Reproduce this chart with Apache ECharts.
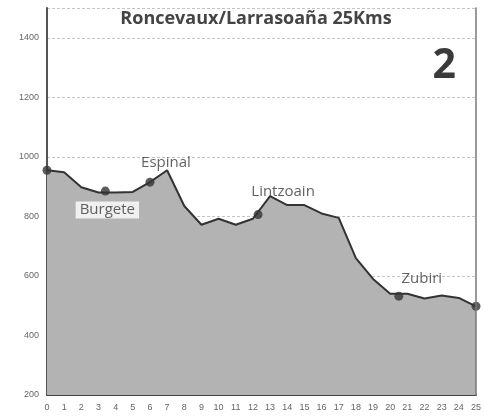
<!DOCTYPE html>
<html>
<head>
<meta charset="utf-8">
<script src="https://cdn.jsdelivr.net/npm/echarts@6/dist/echarts.min.js"></script>
<style>
html,body{margin:0;padding:0;background:#fff;}
#main{width:484px;height:418px;}
</style>
</head>
<body>
<div id="main"></div>
<script>
// perfil de la etapa: km y altitud (m)
var kms = [0,1,2,3,4,5,6,7,8,9,10,11,12,13,14,15,16,17,18,19,20,21,22,23,24,25];
var alturas = [955,948,898,880,880,882,915,955,835,772,792,772,792,868,838,838,810,795,660,590,540,540,524,534,526,498];
// pueblos
var puebloKm = [0,3.4,6,12.3,20.5,25];
var puebloAlt = [955,885,915,806,532,498];
var puebloNombre = ['','Burgete','Espinal','Lintzoain','Zubiri',''];
var yTicks = [200,1500,200];

var myChart = echarts.init(document.getElementById('main'));

var perfil = [];
for(var i = 0; i < kms.length; i++){
	perfil.push([kms[i], alturas[i]]);
}
var labelPos = {
	'Burgete': {position:'bottom', offset:[2,1], backgroundColor:'#fff', padding:[1,4]},
	'Espinal': {position:'top', offset:[16,-2]},
	'Lintzoain': {position:'top', offset:[25,-6]},
	'Zubiri': {position:'top', offset:[23,0]}
};
var pueblos = [];
for(var j = 0; j < puebloKm.length; j++){
	var p = {value:[puebloKm[j], puebloAlt[j]], name:puebloNombre[j]};
	if(labelPos[puebloNombre[j]]){
		var lp = labelPos[puebloNombre[j]];
		p.label = {show:true, position:lp.position, offset:lp.offset,
			backgroundColor:lp.backgroundColor || 'transparent', padding:lp.padding || 0,
			borderWidth:0, borderColor:'transparent', textBorderWidth:0, textBorderColor:'transparent'};
	}
	pueblos.push(p);
}

var option = {
	backgroundColor:'#fff',
	animation:false,
	title:{
		text:'Roncevaux/Larrasoaña 25Kms',
		left:251, top:5, textAlign:'center',
		textStyle:{fontFamily:'Open Sans', fontWeight:'bold', fontSize:18, color:'#444'}
	},
	graphic:[{
		type:'text', right:28, top:46,
		style:{text:'2', font:'bold 41px "Open Sans"', fill:'#3a3a3a'}
	}],
	grid:{left:47, right:6, top:8, bottom:23},
	xAxis:{
		type:'value', min:0, max:25, interval:1,
		axisLine:{show:true, lineStyle:{color:'#444', width:2}},
		axisTick:{show:false},
		splitLine:{show:false},
		axisLabel:{color:'#666', fontSize:9, margin:8, fontFamily:'Liberation Sans'}
	},
	yAxis:[{
		type:'value', min:yTicks[0], max:yTicks[1], interval:yTicks[2],
		axisLine:{show:true, lineStyle:{color:'#555', width:2}},
		axisTick:{show:false},
		splitLine:{show:true, lineStyle:{color:'#c4c4c4', type:[3,2], width:1}},
		axisLabel:{color:'#666', fontSize:9, margin:8, fontFamily:'Liberation Sans',
			formatter:function(v){ return v % 200 === 0 ? v : ''; }}
	},{
		type:'value', min:yTicks[0], max:yTicks[1], position:'right', z:5,
		axisLine:{show:true, lineStyle:{color:'#777', width:1.5}},
		axisTick:{show:false}, axisLabel:{show:false}, splitLine:{show:false}
	}],
	series:[{
		type:'line',
		data:perfil,
		symbol:'none',
		lineStyle:{color:'#333', width:2},
		areaStyle:{color:'#b3b3b3', opacity:1},
		z:2
	},{
		type:'scatter',
		data:pueblos,
		symbolSize:9,
		itemStyle:{color:'#333'},
		label:{show:false, formatter:'{b}', color:'#3a3a3a', fontSize:15, fontFamily:'Open Sans'},
		z:3
	}]
};
myChart.setOption(option, true);
</script>
</body>
</html>
